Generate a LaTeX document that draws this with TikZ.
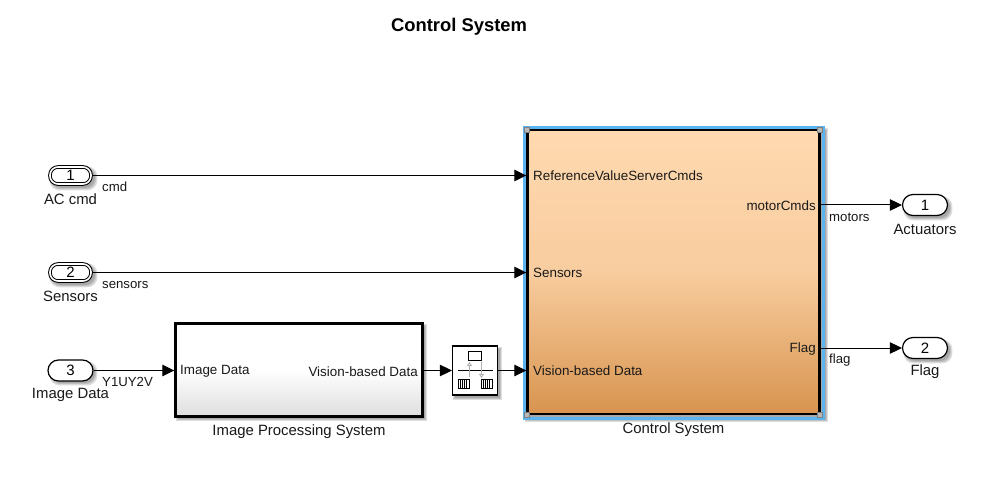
\documentclass[tikz,border=0pt]{standalone}
\usepackage{fontspec}
\setmainfont{Liberation Sans}
\usetikzlibrary{arrows.meta,calc}
\definecolor{selblue}{HTML}{5AB4F0}
\definecolor{ctop}{HTML}{FFD9B0}
\definecolor{cbot}{HTML}{D8944F}
\definecolor{handle}{HTML}{808080}
\definecolor{rtgray}{HTML}{B0B0B0}
\tikzset{
  txt/.style={font=\fontsize{13.4}{15}\selectfont,inner sep=0pt,text=black!90},
  lbl/.style={font=\fontsize{14.9}{17}\selectfont,inner sep=0pt,text=black!90},
  sig/.style={font=\fontsize{13.2}{15}\selectfont,inner sep=0pt,text=black!90,anchor=west},
  wire/.style={line width=1pt,-{Triangle[length=12pt,width=11.5pt]}},
  portshape/.style={draw=black,line width=1.2pt,fill=white,rounded corners=10.5pt,minimum width=45pt,minimum height=21pt,inner sep=0pt,font=\fontsize{15}{17}\selectfont},
  inportd/.style={portshape,double=white,double distance=1.6pt,line width=1pt,minimum width=41pt,minimum height=17pt,rounded corners=8pt},
  shad/.style={fill=black,opacity=.13,draw=none},
  hnd/.style={draw=handle,line width=1.2pt,fill=black!28,minimum size=5.5pt,inner sep=0pt},
}
\newcommand{\softshadow}[5][0]{% radius, x1,y1,x2,y2
  \foreach \k in {0,1,2}{
    \fill[shad,rounded corners=#1pt] ({#2+3-\k*0.8},{#3+3-\k*0.8}) rectangle ({#4+2+\k*1.2},{#5+2+\k*1.2});
  }
}
\begin{document}
\begin{tikzpicture}[x=1pt,y=-1pt]
\useasboundingbox (0,0) rectangle (1006,481);
\fill[white] (0,0) rectangle (1006,481);
\node[font=\bfseries\fontsize{18.4}{20}\selectfont,inner sep=0pt] (title) at (459,26.5) {Control System};

% shadows
\softshadow[10]{48}{165}{93}{186}
\softshadow[10]{48}{262}{93}{283}
\softshadow[10]{48}{360}{93}{381}
\softshadow[10]{902}{195}{948}{216}
\softshadow[10]{902}{338}{948}{359}
\softshadow{175}{323}{423}{417}
\softshadow{452}{346}{498}{396}
\softshadow{524}{127}{824}{418}

% inports
\node[inportd] (in1) at (70.5,175.5) {1};
\node[inportd] (in2) at (70.5,272.5) {2};
\node[portshape] (in3) at (70.5,370.5) {3};
\node[lbl] (l1) at (70.5,199.5) {AC cmd};
\node[lbl] (l2) at (70.5,296.5) {Sensors};
\node[lbl] (l3) at (70.5,394.5) {Image Data};

% outports
\node[portshape] (out1) at (925,205) {1};
\node[portshape] (out2) at (925,348) {2};
\node[lbl] (lo1) at (925,229.5) {Actuators};
\node[lbl] (lo2) at (925,372) {Flag};

% image processing block
\node[draw=black,line width=2.4pt,minimum width=247pt,minimum height=93pt,inner sep=0pt,top color=white,bottom color=black!13,middle color=white,shading angle=0] (ips) at (299,370) {};
\node[lbl] (ipsl) at (299,431.5) {Image Processing System};
\node[txt,anchor=west] (ipsin) at (180,371.5) {Image Data};
\node[txt,anchor=east] (ipsout) at (418,371.5) {Vision-based Data};

% rate transition block
\node[draw=black,line width=1.2pt,fill=white,minimum width=45pt,minimum height=49pt,inner sep=0pt] (rt) at (475,370.5) {};
\draw[black,line width=.8pt] (458,370.5) -- (493,370.5);
\draw[black,line width=.7pt] (468.5,351.5) rectangle (481.5,360.5);
\draw[rtgray,line width=.8pt,-{Triangle[open,length=4pt,width=5pt]}] (469.5,377) -- (469.5,362);
\draw[rtgray,line width=.8pt,-{Triangle[open,length=4pt,width=5pt]}] (481.5,362) -- (481.5,378);
\foreach \bx in {458,481}{
  \draw[black,line width=.7pt] (\bx,379.5) rectangle (\bx+11,388.5);
  \foreach \t in {2.2,4.4,6.6,8.8} \draw[black,line width=.7pt] (\bx+\t,379.5) -- (\bx+\t,388.5);
}

% control system block
\draw[selblue,line width=3pt] (524.5,127.5) rectangle (823.5,418);
\node[draw=black,line width=2.4pt,minimum width=292pt,minimum height=284pt,inner sep=0pt,top color=ctop,bottom color=cbot,middle color=ctop!82!cbot] (cs) at (673.5,272) {};
\node[lbl] (csl) at (673.5,429.5) {Control System};
\node[txt,anchor=west] (p1) at (533,176) {ReferenceValueServerCmds};
\node[txt,anchor=west] (p2) at (533,273) {Sensors};
\node[txt,anchor=west] (p3) at (533,371) {Vision-based Data};
\node[txt,anchor=east] (p4) at (816,206) {motorCmds};
\node[txt,anchor=east] (p5) at (816,349) {Flag};
\foreach \hx/\hy/\hn in {527/130/ha,820/130/hb,527/415/hc,820/415/hd}
  \node[hnd] (\hn) at (\hx,\hy) {};

% connectors
\coordinate (csi1) at ($(cs.west)+(0,-96.5)$);
\coordinate (csi2) at ($(cs.west)+(0,0.5)$);
\coordinate (csi3) at ($(cs.west)+(0,98.5)$);
\coordinate (cso1) at ($(cs.east)+(0,-67)$);
\coordinate (cso2) at ($(cs.east)+(0,76)$);
\coordinate (ipsi) at ($(ips.west)+(0,0.5)$);
\coordinate (ipso) at ($(ips.east)+(0,0.5)$);
\draw[wire] (in1.east) -- (csi1);
\draw[wire] (in2.east) -- (csi2);
\draw[wire] (in3.east) -- (ipsi);
\draw[wire] (ipso) -- (rt.west);
\draw[wire] (rt.east) -- (csi3);
\draw[wire] (cso1) -- (out1.west);
\draw[wire] (cso2) -- (out2.west);

% signal labels
\node[sig] (s1) at (102,187) {cmd};
\node[sig] (s2) at (102,285.5) {sensors};
\node[sig] (s3) at (102,382) {Y1UY2V};
\node[sig] (s4) at (829,217) {motors};
\node[sig] (s5) at (829,360.5) {flag};
\end{tikzpicture}
\end{document}
